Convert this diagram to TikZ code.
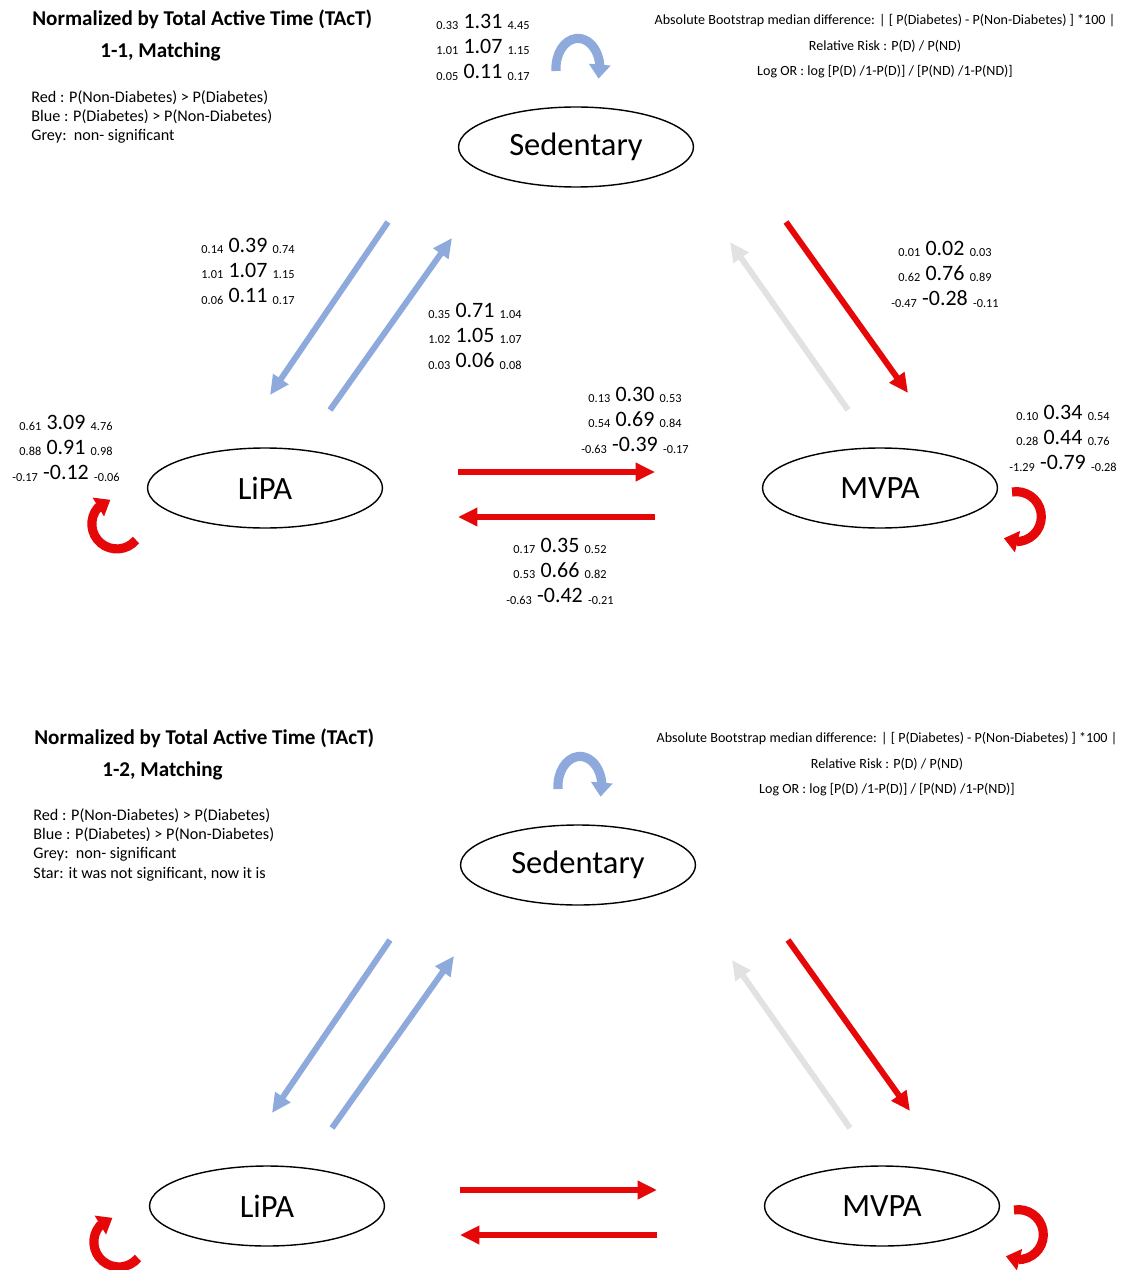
\documentclass[tikz,border=0pt]{standalone}
\usepackage{fontspec}
\setmainfont{Carlito}
\usetikzlibrary{shapes.geometric}
\usetikzlibrary{arrows.meta}
\usetikzlibrary{bending}

\definecolor{flowblue}{RGB}{142,169,219}
\definecolor{flowred}{RGB}{230,8,8}
\definecolor{flowgrey}{RGB}{226,226,226}

\newcommand{\nums}[3]{\raisebox{-1pt}{\fontsize{7}{8}\selectfont #1}\hspace{3pt}#2\hspace{3pt}\raisebox{-1pt}{\fontsize{7}{8}\selectfont #3}}

\tikzset{
  state/.style={ellipse, draw, line width=0.8pt, minimum width=4.7cm, minimum height=1.6cm, inner sep=0, font=\fontsize{18.5}{20}\selectfont},
  flow/.style={line width=3.4pt, -{Triangle[length=11pt, width=10pt]}},
  selfflow/.style={line width=5.2pt, -{Triangle[length=8pt, width=12pt, flex]}},
  stats/.style={align=center, inner sep=0, font=\fontsize{12.5}{14.3}\selectfont},
  legend/.style={align=left, inner sep=0, anchor=north west, font=\fontsize{9.2}{11}\selectfont},
  formula/.style={align=center, inner sep=0, anchor=north, font=\fontsize{8}{14.5}\selectfont},
  heading/.style={inner sep=0, anchor=base west, font=\bfseries\fontsize{12}{14}\selectfont}
}

\begin{document}
\begin{tikzpicture}[x=0.02cm, y=-0.02cm]
  \useasboundingbox (0,0) rectangle (1129,1270);

  % the two panels share the same layout
  \foreach \p/\dx/\dy in {1/0/0, 2/2/718} {
    \begin{scope}[shift={(\dx,\dy)}]
      \node[state] (sed\p) at (576,147) {Sedentary};
      \node[state] (lipa\p) at (265,488) {LiPA};
      \node[state] (mvpa\p) at (880,488) {MVPA};

      \node[heading] (title\p) at (32,26) {Normalized by Total Active Time (TAcT)};
      \node[heading] (match\p) at (100,58) {1-\p, Matching};
      \node[formula] (def\p) at (885,14) {Absolute Bootstrap median difference: | [ P(Diabetes) - P(Non-Diabetes) ] *100 |\\
        Relative Risk : P(D) / P(ND)\\
        Log OR : log [P(D) /1-P(D)] / [P(ND) /1-P(ND)]};

      \coordinate (sedlipaA\p) at (388,222);
      \coordinate (sedlipaB\p) at (270,395);
      \coordinate (lipasedA\p) at (330,410);
      \coordinate (lipasedB\p) at (452,238);
      \coordinate (mvpasedA\p) at (848,410);
      \coordinate (mvpasedB\p) at (730,242);
      \coordinate (sedmvpaA\p) at (786,222);
      \coordinate (sedmvpaB\p) at (908,393);
      \coordinate (lipamvpaA\p) at (458,472);
      \coordinate (lipamvpaB\p) at (655,472);
      \coordinate (mvpalipaA\p) at (655,517);
      \coordinate (mvpalipaB\p) at (458,517);
      \coordinate (sedloop\p) at (556,71);
      \coordinate (lipaloop\p) at (136,540);
      \coordinate (mvpaloop\p) at (1012,492);

      \draw[flow, flowblue] (sedlipaA\p) -- (sedlipaB\p);
      \draw[flow, flowblue] (lipasedA\p) -- (lipasedB\p);
      \draw[flow, flowgrey] (mvpasedA\p) -- (mvpasedB\p);
      \draw[flow, flowred] (sedmvpaA\p) -- (sedmvpaB\p);
      \draw[flow, flowred] (lipamvpaA\p) -- (lipamvpaB\p);
      \draw[flow, flowred] (mvpalipaA\p) -- (mvpalipaB\p);

      \draw[selfflow, flowblue] (sedloop\p) arc[start angle=185, end angle=-20, x radius=0.44cm, y radius=0.6cm];
      \draw[selfflow, flowred] (lipaloop\p) arc[start angle=-40, end angle=-255, radius=0.5cm];
      \draw[selfflow, flowred] (mvpaloop\p) arc[start angle=100, end angle=-120, radius=0.5cm];
    \end{scope}
  }

  % legends
  \node[legend] (key1) at (31,90) {Red : P(Non-Diabetes) > P(Diabetes)\\
    Blue : P(Diabetes) > P(Non-Diabetes)\\
    Grey:\ \ non- significant};
  \node[legend] (key2) at (33,808) {Red : P(Non-Diabetes) > P(Diabetes)\\
    Blue : P(Diabetes) > P(Non-Diabetes)\\
    Grey:\ \ non- significant\\
    Star: it was not significant, now it is};

  % numbers, 1-1 panel only
  \node[stats] (sedval) at (483,47) {\nums{0.33}{1.31}{4.45}\\ \nums{1.01}{1.07}{1.15}\\ \nums{0.05}{0.11}{0.17}};
  \node[stats] (sedlipaval) at (248,271) {\nums{0.14}{0.39}{0.74}\\ \nums{1.01}{1.07}{1.15}\\ \nums{0.06}{0.11}{0.17}};
  \node[stats] (lipasedval) at (475,336) {\nums{0.35}{0.71}{1.04}\\ \nums{1.02}{1.05}{1.07}\\ \nums{0.03}{0.06}{0.08}};
  \node[stats] (sedmvpaval) at (945,274) {\nums{0.01}{0.02}{0.03}\\ \nums{0.62}{0.76}{0.89}\\ \nums{-0.47}{-0.28}{-0.11}};
  \node[stats] (lipamvpaval) at (635,420) {\nums{0.13}{0.30}{0.53}\\ \nums{0.54}{0.69}{0.84}\\ \nums{-0.63}{-0.39}{-0.17}};
  \node[stats] (mvpalipaval) at (560,571) {\nums{0.17}{0.35}{0.52}\\ \nums{0.53}{0.66}{0.82}\\ \nums{-0.63}{-0.42}{-0.21}};
  \node[stats] (lipaval) at (66,448) {\nums{0.61}{3.09}{4.76}\\ \nums{0.88}{0.91}{0.98}\\ \nums{-0.17}{-0.12}{-0.06}};
  \node[stats] (mvpaval) at (1063,438) {\nums{0.10}{0.34}{0.54}\\ \nums{0.28}{0.44}{0.76}\\ \nums{-1.29}{-0.79}{-0.28}};
\end{tikzpicture}
\end{document}
